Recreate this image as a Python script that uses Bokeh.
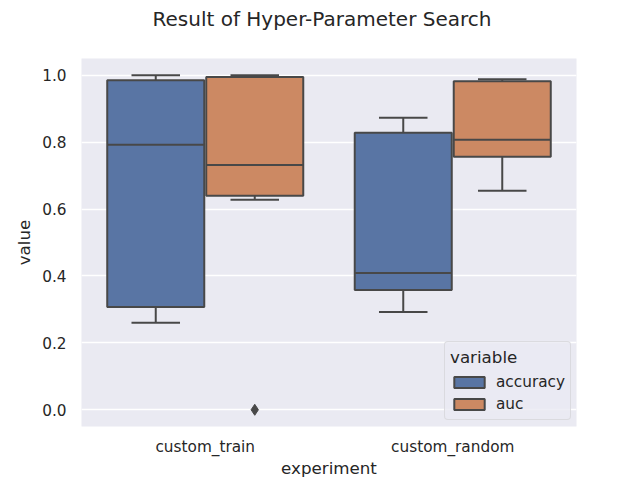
from bokeh.plotting import figure
from bokeh.models import (FactorRange, Range1d, FixedTicker, Legend, LegendItem,
                          PrintfTickFormatter, ColumnDataSource, Title)
from bokeh.transform import dodge
from bokeh.embed import file_html
from bokeh.resources import INLINE

# ---------------- data ----------------
experiments = ["custom_train", "custom_random"]
variables = ["accuracy", "auc"]
variable_colors = ["#5975a4", "#cc8963"]

acc_whisker_low = [0.260, 0.292]
acc_q1 = [0.307, 0.358]
acc_median = [0.792, 0.409]
acc_q3 = [0.985, 0.828]
acc_whisker_high = [1.000, 0.873]

auc_whisker_low = [0.628, 0.655]
auc_q1 = [0.640, 0.756]
auc_median = [0.732, 0.807]
auc_q3 = [0.995, 0.982]
auc_whisker_high = [1.000, 0.988]

outlier_experiment = ["custom_train"]
outlier_variable = ["auc"]
outlier_value = [0.0]

y_ticks = [0.0, 0.2, 0.4, 0.6, 0.8, 1.0]

title_text = "Result of Hyper-Parameter Search"
x_label = "experiment"
y_label = "value"
legend_title = "variable"

# ---------------- styling ----------------
FONT = "DejaVu Sans"
TXT = "#262626"
EDGE = "#484848"
BG = "#eaeaf2"

p = figure(width=640, height=480, output_backend="svg", toolbar_location=None, title=None,
           x_range=FactorRange(*experiments, range_padding=0),
           y_range=Range1d(-0.05, 1.05),
           min_border_left=81, min_border_right=64, min_border_top=58, min_border_bottom=54)
p.background_fill_color = BG
p.border_fill_color = "white"
p.outline_line_color = None

# spacer next to the plot frame, then the title above it
spacer = Title(text=" ", text_font_size="1px", standoff=25, text_color="white")
p.add_layout(spacer, "above")
main_title = Title(text=title_text, align="left", offset=71, vertical_align="bottom", standoff=0,
                   text_font=FONT, text_font_size="20px", text_font_style="normal", text_color=TXT)
p.add_layout(main_title, "above")

p.xgrid.grid_line_color = None
p.ygrid.grid_line_color = "white"
p.ygrid.grid_line_width = 1.3
p.yaxis.ticker = FixedTicker(ticks=y_ticks)
p.yaxis.formatter = PrintfTickFormatter(format="%.1f")

for ax in (p.xaxis[0], p.yaxis[0]):
    ax.axis_line_color = None
    ax.major_tick_line_color = None
    ax.minor_tick_line_color = None
    ax.major_tick_out = 0
    ax.major_tick_in = 0
    ax.major_label_text_font = FONT
    ax.major_label_text_font_size = "15.3px"
    ax.major_label_text_color = TXT
    ax.axis_label_text_font = FONT
    ax.axis_label_text_font_size = "16.7px"
    ax.axis_label_text_font_style = "normal"
    ax.axis_label_text_color = TXT

p.xaxis.axis_label = x_label
p.yaxis.axis_label = y_label
p.xaxis.major_label_standoff = 11
p.xaxis.axis_label_standoff = -1
p.yaxis.major_label_standoff = 15
p.yaxis.axis_label_standoff = 5

BOX_W = 0.392
CAP_HALF = 0.098

stats = {
    "accuracy": (acc_whisker_low, acc_q1, acc_median, acc_q3, acc_whisker_high),
    "auc": (auc_whisker_low, auc_q1, auc_median, auc_q3, auc_whisker_high),
}
offsets = {"accuracy": -0.2, "auc": 0.2}

box_renderers = []
xr = p.x_range
for var, color in zip(variables, variable_colors):
    wlo, q1, med, q3, whi = stats[var]
    off = offsets[var]
    src = ColumnDataSource(dict(experiment=experiments, wlo=wlo, q1=q1, med=med, q3=q3, whi=whi))
    # whiskers
    p.segment(x0=dodge("experiment", off, range=xr), x1=dodge("experiment", off, range=xr),
              y0="q3", y1="whi", source=src, line_color=EDGE, line_width=2)
    p.segment(x0=dodge("experiment", off, range=xr), x1=dodge("experiment", off, range=xr),
              y0="q1", y1="wlo", source=src, line_color=EDGE, line_width=2)
    # caps
    p.segment(x0=dodge("experiment", off - CAP_HALF, range=xr), x1=dodge("experiment", off + CAP_HALF, range=xr),
              y0="whi", y1="whi", source=src, line_color=EDGE, line_width=2)
    p.segment(x0=dodge("experiment", off - CAP_HALF, range=xr), x1=dodge("experiment", off + CAP_HALF, range=xr),
              y0="wlo", y1="wlo", source=src, line_color=EDGE, line_width=2)
    # boxes
    r = p.vbar(x=dodge("experiment", off, range=xr), width=BOX_W, top="q3", bottom="q1", source=src,
               fill_color=color, line_color=EDGE, line_width=2)
    box_renderers.append(r)
    # medians
    p.segment(x0=dodge("experiment", off - BOX_W / 2, range=xr), x1=dodge("experiment", off + BOX_W / 2, range=xr),
              y0="med", y1="med", source=src, line_color=EDGE, line_width=2)

# outliers
out_src = ColumnDataSource(dict(experiment=outlier_experiment, value=outlier_value))
p.scatter(x=dodge("experiment", offsets[outlier_variable[0]], range=xr), y="value", source=out_src,
          marker="diamond", size=11, fill_color=EDGE, line_color=EDGE)

legend = Legend(items=[LegendItem(label=v, renderers=[r], index=0) for v, r in zip(variables, box_renderers)],
                location=(363, 6), title=legend_title, orientation="vertical")
legend.title_text_font = FONT
legend.title_text_font_size = "16.7px"
legend.title_text_color = TXT
legend.title_text_font_style = "normal"
legend.title_standoff = 5
legend.label_text_font = FONT
legend.label_text_font_size = "15.3px"
legend.label_text_color = TXT
legend.glyph_width = 38
legend.glyph_height = 14
legend.label_standoff = 8
legend.label_height = 20
legend.spacing = 2
legend.padding = 5
legend.margin = 0
legend.background_fill_color = BG
legend.background_fill_alpha = 0.8
legend.border_line_color = "#cccccc"
legend.border_line_width = 1
if "border_radius" in legend.properties():
    legend.border_radius = 4
p.add_layout(legend, "center")

open("out.html", "w").write(file_html(p, INLINE))
